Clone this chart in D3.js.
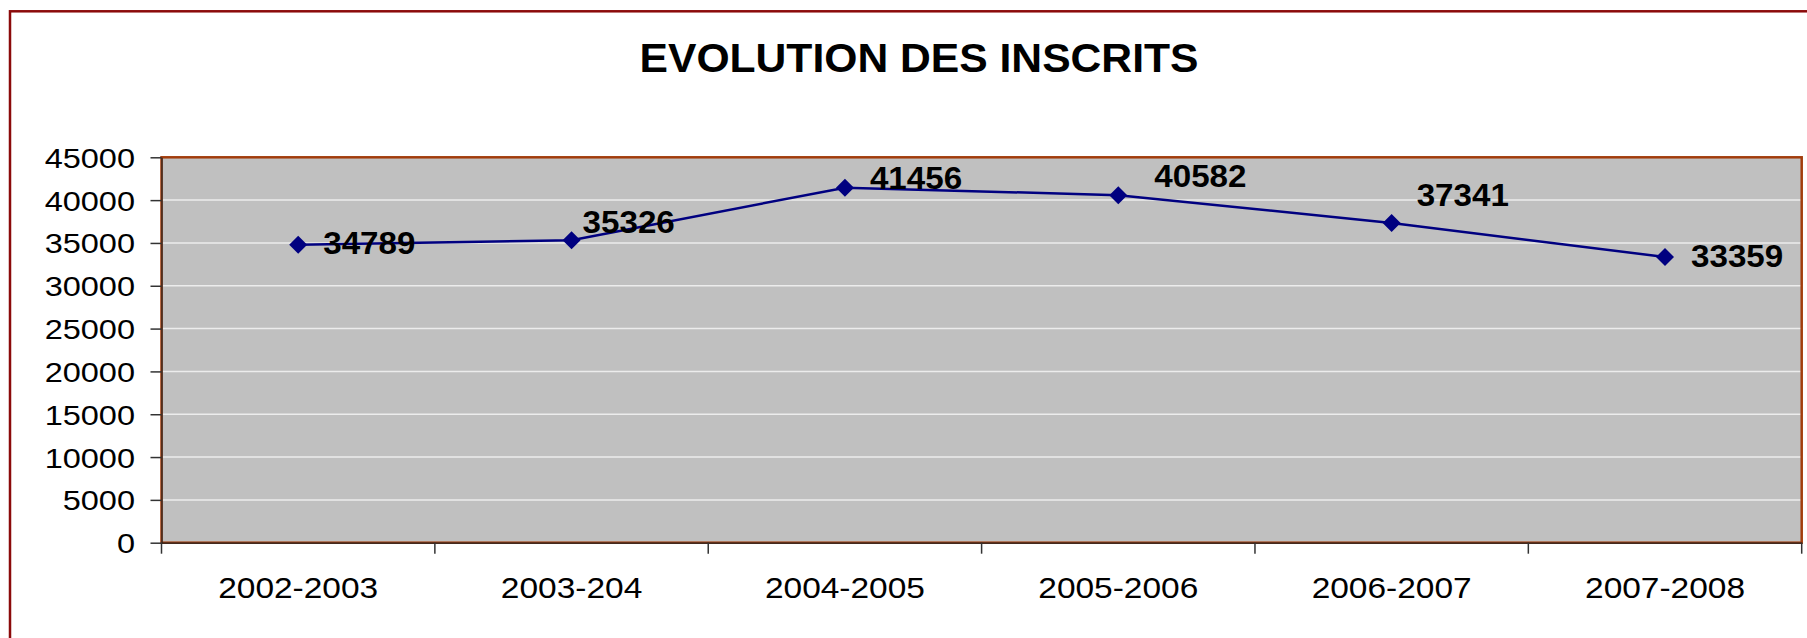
<!DOCTYPE html>
<html>
<head>
<meta charset="utf-8">
<script src="https://cdn.jsdelivr.net/npm/d3@7"></script>
<style>
  body { margin:0; background:#fff; }
  svg { display:block; font-family:"Liberation Sans", Arial, sans-serif; }
</style>
</head>
<body>
<svg id="chart" width="1807" height="638"></svg>
<script>
// données
const years   = ['2002-2003','2003-204','2004-2005','2005-2006','2006-2007','2007-2008'];
const inscrits = [34789, 35326, 41456, 40582, 37341, 33359];
const yTicks  = [0,5000,10000,15000,20000,25000,30000,35000,40000,45000];

// décalage manuel des étiquettes (dx, dy depuis le point)
const labelNudge = [[25,9],[11,-7],[25,1],[36,-8],[25,-17],[26,10]];

const svg = d3.select('#chart');
const W = 1807, H = 638;
const plot = { l:161.5, t:157.3, r:1801.7, b:542.7 };

// cadre extérieur (déborde à droite et en bas)
svg.append('rect')
  .attr('x', 10).attr('y', 11.3)
  .attr('width', W + 20).attr('height', H + 20)
  .attr('fill', '#fff').attr('stroke', '#8b0a0a').attr('stroke-width', 2.5);

svg.append('text')
  .attr('transform', 'translate(919,72.3) scale(1.066,1)')
  .attr('text-anchor', 'middle')
  .attr('font-size', 40).attr('font-weight', 700)
  .text('EVOLUTION DES INSCRITS');

const x = d3.scaleBand().domain(years).range([plot.l, plot.r]);
const y = d3.scaleLinear().domain([0, 45000]).range([plot.b, plot.t]);

// zone de tracé
svg.append('rect')
  .attr('x', plot.l).attr('y', plot.t)
  .attr('width', plot.r - plot.l).attr('height', plot.b - plot.t)
  .attr('fill', '#c0c0c0');

svg.append('g').selectAll('line')
  .data(yTicks.filter(d => d > 0 && d < 45000)).join('line')
  .attr('x1', plot.l).attr('x2', plot.r)
  .attr('y1', d => y(d)).attr('y2', d => y(d))
  .attr('stroke', '#ececec').attr('stroke-width', 1.5);

svg.append('rect')
  .attr('x', plot.l).attr('y', plot.t)
  .attr('width', plot.r - plot.l).attr('height', plot.b - plot.t)
  .attr('fill', 'none').attr('stroke', '#a23d0c').attr('stroke-width', 2.5);

// axe Y
const yAxis = svg.append('g')
  .attr('transform', `translate(${plot.l},0)`)
  .call(d3.axisLeft(y).tickValues(yTicks).tickSize(11).tickSizeOuter(0).tickFormat(d3.format('d')));
yAxis.select('.domain').attr('stroke', '#222').attr('stroke-width', 1.2);
yAxis.selectAll('.tick line').attr('stroke', '#333').attr('stroke-width', 1.5);
yAxis.selectAll('.tick text')
  .attr('x', null).attr('dy', null)
  .attr('transform', 'translate(-26.5,10) scale(1.14,1)')
  .attr('font-size', 28.5).attr('font-family', '"Liberation Sans", Arial, sans-serif')
  .attr('fill', '#000');

// axe X
const xAxis = svg.append('g')
  .attr('transform', `translate(0,${plot.b})`)
  .call(d3.axisBottom(x).tickSize(0).tickSizeOuter(0));
xAxis.select('.domain').attr('stroke', '#222').attr('stroke-width', 1.2);
xAxis.selectAll('.tick text')
  .attr('y', null).attr('dy', null)
  .attr('transform', 'translate(0,55.6) scale(1.116,1)')
  .attr('font-size', 30).attr('font-family', '"Liberation Sans", Arial, sans-serif')
  .attr('fill', '#000');
xAxis.selectAll('.bound')
  .data(years.map(d => x(d)).concat([x.range()[1]])).join('line')
  .attr('class', 'bound')
  .attr('x1', d => d).attr('x2', d => d)
  .attr('y1', 0).attr('y2', 11)
  .attr('stroke', '#333').attr('stroke-width', 1.5);

// série
const cx = d => x(d) + x.bandwidth() / 2;
const pts = years.map((d, i) => [cx(d), y(inscrits[i])]);

svg.append('path')
  .attr('d', d3.line()(pts))
  .attr('fill', 'none').attr('stroke', '#000080').attr('stroke-width', 2.5);

svg.append('g').selectAll('path')
  .data(pts).join('path')
  .attr('transform', d => `translate(${d[0]},${d[1]})`)
  .attr('d', 'M0,-9L9,0L0,9L-9,0Z')
  .attr('fill', '#000080');

svg.append('g').selectAll('text')
  .data(inscrits).join('text')
  .attr('transform', (d, i) => `translate(${pts[i][0] + labelNudge[i][0]},${pts[i][1] + labelNudge[i][1]}) scale(1.07,1)`)
  .attr('font-size', 31).attr('font-weight', 700)
  .attr('fill', '#000')
  .text(d => d);
</script>
</body>
</html>
